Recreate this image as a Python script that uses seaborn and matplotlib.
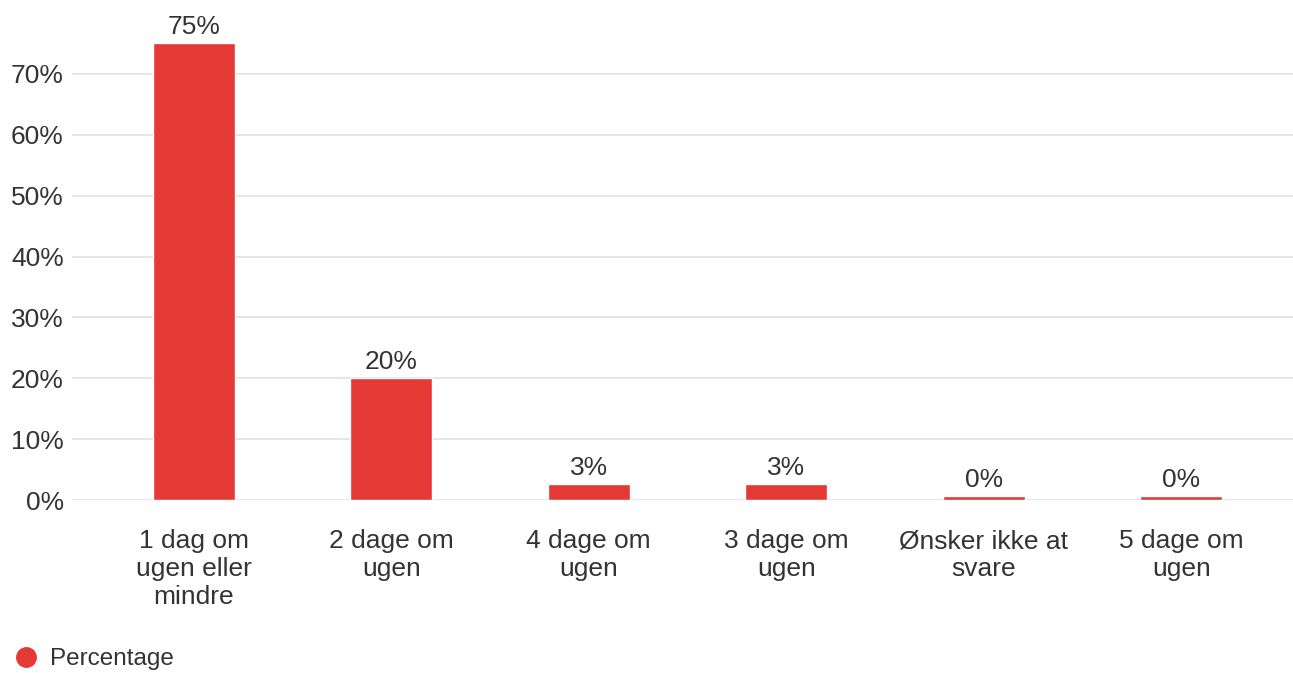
import matplotlib
matplotlib.use("Agg")
import matplotlib.pyplot as plt
import seaborn as sns
from matplotlib.ticker import PercentFormatter
from matplotlib.lines import Line2D

categories = ["1 dag om\nugen eller\nmindre", "2 dage om\nugen", "4 dage om\nugen",
              "3 dage om\nugen", "Ønsker ikke at\nsvare", "5 dage om\nugen"]
values = [75.0, 20.0, 2.55, 2.55, 0.6, 0.6]
value_labels = ["75%", "20%", "3%", "3%", "0%", "0%"]

bar_color = "#e53935"
text_color = "#333333"

sns.set_theme(style="white")
plt.rcParams["font.family"] = ["Liberation Sans", "DejaVu Sans"]

fig = plt.figure(figsize=(12.93, 6.73), dpi=100)
ax = fig.add_axes([72 / 1293, 1 - 500 / 673, 1 - 72 / 1293, (500 - 13) / 673])

sns.barplot(x=categories, y=values, color=bar_color, width=0.415, saturation=1, ax=ax)

ax.set_ylim(0, 80)
ax.set_xlim(-0.617, 5.566)
ax.set_yticks(range(0, 80, 10))
ax.yaxis.set_major_formatter(PercentFormatter(decimals=0))
ax.grid(axis="y", color="#e3e3e3", linewidth=1.3)
ax.set_axisbelow(True)
sns.despine(ax=ax, left=True, bottom=True)
ax.set_xlabel("")
ax.set_ylabel("")

ax.tick_params(axis="y", length=0, pad=6, labelsize=19, labelcolor=text_color)
ax.tick_params(axis="x", length=0, pad=21, labelsize=19, labelcolor=text_color)
for lbl in ax.get_xticklabels():
    lbl.set_linespacing(1.2)
    lbl.set_verticalalignment("top")

ax.bar_label(ax.containers[0], labels=value_labels, padding=3, fontsize=19, color=text_color)

handle = Line2D([], [], marker="o", linestyle="", markersize=14, color=bar_color)
fig.legend([handle], ["Percentage"], loc="lower left", bbox_to_anchor=(0.005, -0.01),
           frameon=False, fontsize=17.5, labelcolor=text_color, handlelength=0.8,
           handletextpad=0.6, borderaxespad=0, borderpad=0.4)

fig.savefig("out.png", dpi=100, facecolor="white")
